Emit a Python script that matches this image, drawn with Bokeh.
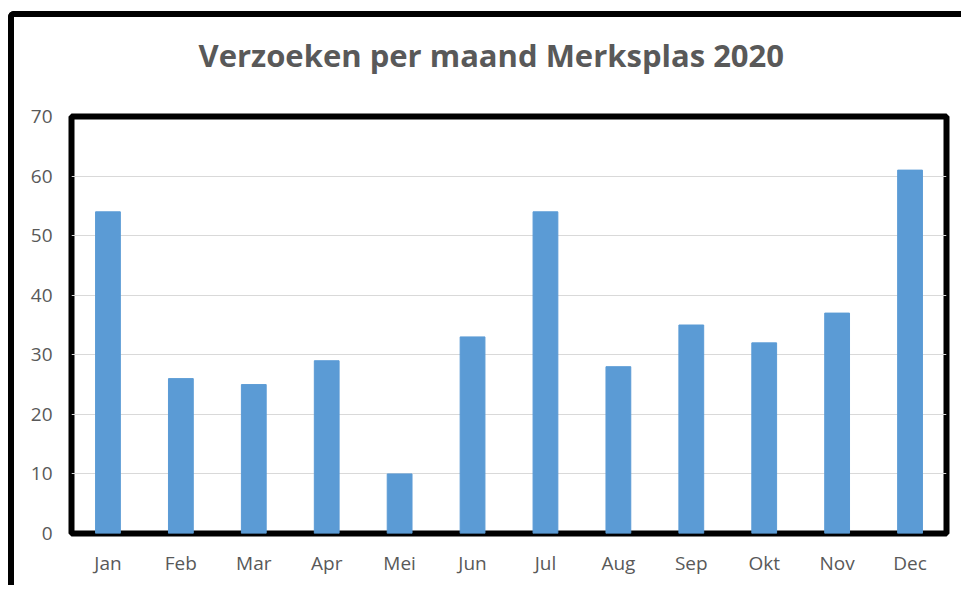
from bokeh.plotting import figure
from bokeh.models import FactorRange, Range1d, FixedTicker, Title
from bokeh.embed import file_html
from bokeh.resources import INLINE

months = ["Jan", "Feb", "Mar", "Apr", "Mei", "Jun", "Jul", "Aug", "Sep", "Okt", "Nov", "Dec"]
requests = [54, 26, 25, 29, 10, 33, 54, 28, 35, 32, 37, 61]
y_ticks = [0, 10, 20, 30, 40, 50, 60, 70]
title_text = "Verzoeken per maand Merksplas 2020"

FONT = "Open Sans"
GREY = "#595959"

W, H = 947, 568
MB_L, MB_R, MB_T, MB_B = 57, 21, 99, 58

p = figure(x_range=FactorRange(*months, range_padding=0), y_range=Range1d(0, 70),
           width=W, height=H, output_backend="svg", toolbar_location=None,
           min_border_left=MB_L, min_border_right=MB_R, min_border_top=MB_T,
           min_border_bottom=MB_B)

p.styles = {"box-sizing": "content-box",
            "border-left": "6px solid black", "border-top": "6px solid black",
            "border-top-left-radius": "6px",
            "margin-top": "11px", "margin-left": "8px"}

# spacer between frame and title (closest to the frame)
p.add_layout(Title(text=" ", text_font=FONT, text_font_size="10px", standoff=20), "above")
p.add_layout(Title(text=title_text, text_font=FONT, text_font_size="31px",
                   text_font_style="bold", text_color=GREY, align="left",
                   offset=127, standoff=10), "above")

p.vbar(x=months, top=requests, width=0.34, color="#5B9BD5", line_color="#5B9BD5")

p.outline_line_color = "black"
p.outline_line_width = 6

p.xgrid.grid_line_color = None
p.ygrid.grid_line_color = "#D9D9D9"
p.ygrid.grid_line_width = 1
p.yaxis.ticker = FixedTicker(ticks=y_ticks)

for ax in (p.xaxis, p.yaxis):
    ax.axis_line_color = None
    ax.major_tick_line_color = None
    ax.minor_tick_line_color = None
    ax.major_label_text_font = FONT
    ax.major_label_text_font_size = "19px"
    ax.major_label_text_color = GREY

p.yaxis.major_label_standoff = 13
p.xaxis.major_label_standoff = 10

open("out.html", "w").write(file_html(p, INLINE))
